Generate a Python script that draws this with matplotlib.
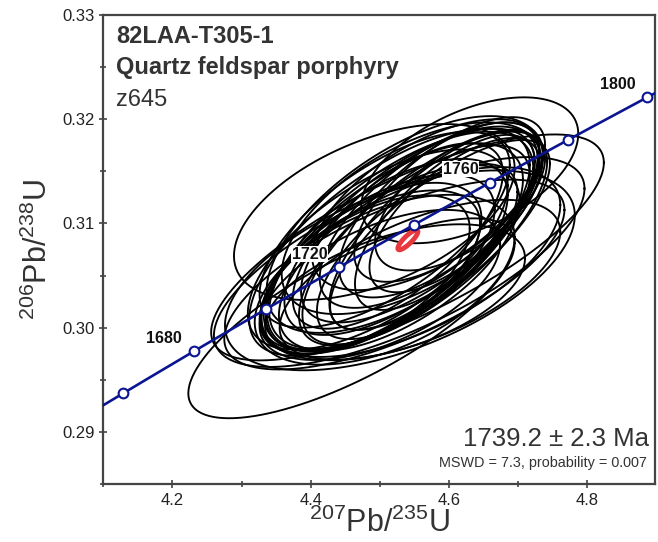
import numpy as np
import matplotlib.pyplot as plt
from matplotlib.ticker import MultipleLocator, FormatStrFormatter

plt.rcParams['font.family'] = ['Liberation Sans', 'DejaVu Sans']
plt.rcParams['mathtext.fontset'] = 'custom'
plt.rcParams['mathtext.rm'] = 'Liberation Sans'

# analyses: 207Pb/235U, 206Pb/238U, 2s errors, error correlation
x207 = [4.492, 4.459, 4.540, 4.630, 4.528, 4.521, 4.531, 4.543, 4.521, 4.557,
        4.511, 4.572, 4.550, 4.536, 4.499, 4.586, 4.526, 4.565, 4.488, 4.601,
        4.546, 4.514, 4.579, 4.478, 4.554, 4.594, 4.528, 4.569, 4.507, 4.608,
        4.497, 4.500, 4.522, 4.486, 4.558, 4.529, 4.544, 4.587, 4.616, 4.507]
y206 = [0.3111, 0.3009, 0.3077, 0.3151, 0.3063, 0.3051, 0.3084, 0.3092, 0.3077, 0.3099,
        0.3070, 0.3108, 0.3079, 0.3099, 0.3063, 0.3113, 0.3088, 0.3086, 0.3057, 0.3123,
        0.3105, 0.3082, 0.3094, 0.3051, 0.3073, 0.3101, 0.3067, 0.3118, 0.3094, 0.3108,
        0.3075, 0.3041, 0.3034, 0.3055, 0.3046, 0.3055, 0.3063, 0.3089, 0.3122, 0.3046]
sx207 = [0.203, 0.236, 0.284, 0.157, 0.268, 0.246, 0.191, 0.181, 0.186, 0.171,
         0.174, 0.159, 0.167, 0.200, 0.167, 0.145, 0.152, 0.177, 0.159, 0.138,
         0.188, 0.203, 0.152, 0.152, 0.145, 0.130, 0.174, 0.167, 0.181, 0.123,
         0.188, 0.174, 0.188, 0.159, 0.203, 0.253, 0.217, 0.159, 0.123, 0.188]
sy206 = [0.00844, 0.00959, 0.01084, 0.00700, 0.01007, 0.00911, 0.01040, 0.00990, 0.01000, 0.00940,
         0.00920, 0.00890, 0.00960, 0.01040, 0.00840, 0.00840, 0.00890, 0.01020, 0.00820, 0.00790,
         0.00920, 0.01090, 0.00960, 0.00760, 0.00840, 0.00840, 0.00890, 0.00820, 0.00940, 0.00740,
         0.00960, 0.00720, 0.00652, 0.00767, 0.00767, 0.00959, 0.00911, 0.00911, 0.00671, 0.00815]
rho = [0.50, 0.75, 0.75, 0.50, 0.70, 0.68, 0.66, 0.68, 0.65, 0.68,
       0.62, 0.68, 0.70, 0.62, 0.60, 0.66, 0.68, 0.72, 0.58, 0.66,
       0.58, 0.68, 0.74, 0.58, 0.68, 0.70, 0.62, 0.60, 0.66, 0.68,
       0.64, 0.55, 0.50, 0.58, 0.60, 0.55, 0.60, 0.75, 0.60, 0.50]

# concordia age ellipse
mean_x, mean_y = 4.5406, 0.30842
mean_sx, mean_sy, mean_rho = 0.0145, 0.00095, 0.85

tick_ages = [1660, 1680, 1700, 1720, 1740, 1760, 1780, 1800]
label_ages = [1680, 1720, 1760, 1800]

l238 = 1.55125e-4  # 1/Ma
l235 = 9.8485e-4


def concordia(t):
    t = np.asarray(t, dtype=float)
    return np.exp(l235 * t) - 1, np.exp(l238 * t) - 1


def ellipse(x, y, sx, sy, r, n=240):
    t = np.linspace(0, 2 * np.pi, n)
    cov = np.array([[sx * sx, r * sx * sy], [r * sx * sy, sy * sy]])
    L = np.linalg.cholesky(cov)
    p = L @ np.vstack([np.cos(t), np.sin(t)])
    return x + p[0], y + p[1]


fig = plt.figure(figsize=(6.58, 5.42), dpi=100)
ax = fig.add_axes([103.3 / 658, 58 / 542, 551.7 / 658, 469 / 542])

for i in range(len(x207)):
    ex, ey = ellipse(x207[i], y206[i], sx207[i], sy206[i], rho[i])
    ax.plot(ex, ey, color='black', lw=1.35, zorder=2)

ex, ey = ellipse(mean_x, mean_y, mean_sx, mean_sy, mean_rho)
ax.fill(ex, ey, facecolor='white', edgecolor='#e8383d', lw=3.5, zorder=3)

cx, cy = concordia(np.linspace(1630, 1830, 300))
ax.plot(cx, cy, color='#0b1591', lw=1.9, zorder=4)
mx, my = concordia(tick_ages)
ax.plot(mx, my, 'o', ms=7, mfc='white', mec='#0b1591', mew=1.5, zorder=5)

for a in label_ages:
    px, py = concordia(a)
    ax.annotate(str(a), (px, py), xytext=(-8.5, 9.5), textcoords='offset points',
                ha='right', va='center', fontsize=11.5, fontweight='bold', color='#111111',
                bbox=dict(facecolor='white', edgecolor='none', pad=0.3), zorder=6)

ax.set_xlim(4.1, 4.898)
ax.set_ylim(0.285, 0.33)
ax.xaxis.set_major_locator(MultipleLocator(0.2))
ax.xaxis.set_minor_locator(MultipleLocator(0.1))
ax.yaxis.set_major_locator(MultipleLocator(0.01))
ax.yaxis.set_minor_locator(MultipleLocator(0.005))
ax.xaxis.set_major_formatter(FormatStrFormatter('%.1f'))
ax.yaxis.set_major_formatter(FormatStrFormatter('%.2f'))
ax.tick_params(which='both', direction='inout', color='#444444', width=1.2,
               labelsize=12, labelcolor='#222222')
ax.tick_params(which='major', length=6)
ax.tick_params(which='minor', length=5)
ax.tick_params(axis='y', pad=3)
for s in ax.spines.values():
    s.set_color('#444444')
    s.set_linewidth(1.6)

ax.set_xlabel(r'$^{207}$Pb/$^{235}$U', fontsize=22, color='#333333', labelpad=0)
ax.set_ylabel(r'$^{206}$Pb/$^{238}$U', fontsize=22, color='#333333', labelpad=6)

ax.text(0.0236, 0.9404, '82LAA-T305-1', transform=ax.transAxes, fontsize=17,
        fontweight='bold', color='#333333', va='baseline')
ax.text(0.0236, 0.8745, 'Quartz feldspar porphyry', transform=ax.transAxes, fontsize=17,
        fontweight='bold', color='#333333', va='baseline')
ax.text(0.0236, 0.8064, 'z645', transform=ax.transAxes, fontsize=17,
        color='#333333', va='baseline')
ax.text(0.989, 0.081, '1739.2 ± 2.3 Ma', transform=ax.transAxes, fontsize=18.5,
        color='#333333', ha='right', va='baseline')
ax.text(0.986, 0.037, 'MSWD = 7.3, probability = 0.007', transform=ax.transAxes,
        fontsize=10.4, color='#333333', ha='right', va='baseline')

fig.savefig('out.png', dpi=100)
